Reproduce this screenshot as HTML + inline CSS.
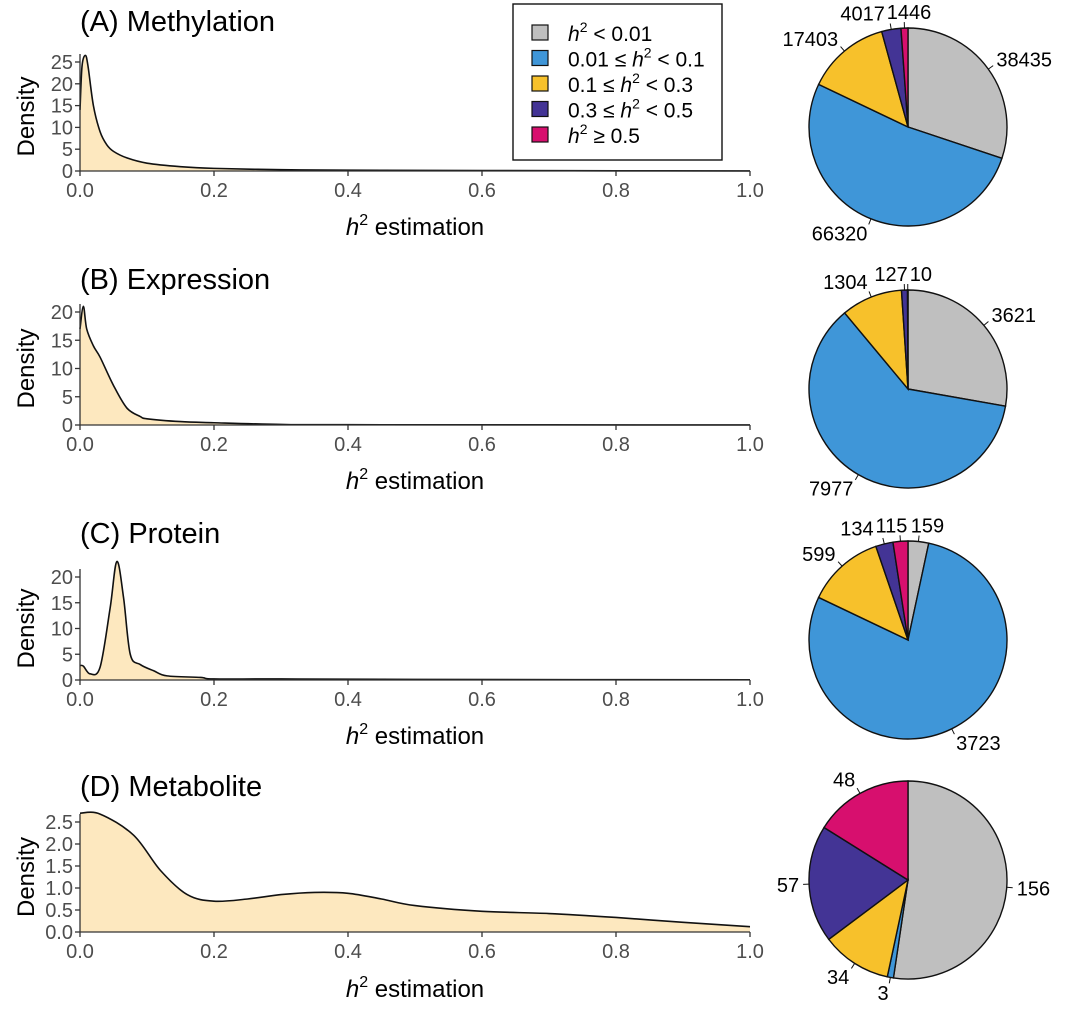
<!DOCTYPE html>
<html><head><meta charset="utf-8">
<style>
body{margin:0;background:#fff;}
svg{display:block;font-family:"Liberation Sans",Arial,sans-serif;}
.tick{fill:#4d4d4d;font-size:20px;}
.ttl{font-size:29px;fill:#000;}
.axt{font-size:24px;fill:#000;}
.pl{font-size:20px;fill:#000;}
</style></head>
<body>
<svg id="fig" width="1080" height="1017" viewBox="0 0 1080 1017"></svg>
<script>
// ---- data ----
const panelTitles = ["(A) Methylation","(B) Expression","(C) Protein","(D) Metabolite"];
const xTicks = [0,0.2,0.4,0.6,0.8,1.0];
const xTickLabels = ["0.0","0.2","0.4","0.6","0.8","1.0"];
const yTicksA = [0,5,10,15,20,25];
const yTicksB = [0,5,10,15,20];
const yTicksC = [0,5,10,15,20];
const yTicksD = [0,0.5,1.0,1.5,2.0,2.5];
const yTickLabelsD = ["0.0","0.5","1.0","1.5","2.0","2.5"];
const densXA = [0,0.003,0.008,0.012,0.02,0.03,0.04,0.05,0.07,0.1,0.15,0.2,0.3,0.4,0.6,0.8,1.0];
const densYA = [14,24,26.5,24,15,9,6,4.5,3,1.8,1,0.6,0.3,0.2,0.1,0.05,0.02];
const densXB = [0,0.005,0.01,0.02,0.03,0.05,0.07,0.09,0.1,0.15,0.2,0.3,0.4,1];
const densYB = [17,21,17,14,12,7,3,1.5,1.1,0.6,0.4,0.1,0.05,0.01];
const densXC = [0,0.005,0.015,0.03,0.045,0.055,0.065,0.075,0.09,0.11,0.13,0.18,0.2,0.3,0.5,1];
const densYC = [2.8,2.7,1.2,2.5,14,23,16,5,3,1.8,0.8,0.5,0.2,0.2,0.1,0.05];
const densXD = [0,0.03,0.08,0.12,0.16,0.2,0.25,0.3,0.35,0.4,0.45,0.5,0.6,0.7,0.8,0.9,1];
const densYD = [2.7,2.68,2.2,1.4,0.85,0.7,0.75,0.85,0.9,0.88,0.75,0.6,0.47,0.42,0.33,0.22,0.12];
const pieA = [38435,66320,17403,4017,1446];
const pieB = [3621,7977,1304,127,10];
const pieC = [159,3723,599,134,115];
const pieD = [156,3,34,57,48];
const pieColors = ["#bfbfbf","#3f96d8","#f7c12b","#433495","#d70f6e"];

// ---- layout ----
const svg = document.getElementById('fig');
const NS = "http://www.w3.org/2000/svg";
function mk(tag, attrs, parent){const e=document.createElementNS(NS,tag);for(const k in attrs)e.setAttribute(k,attrs[k]);(parent||svg).appendChild(e);return e;}
const X0=80, X1=750;
const panels = [
 {title:panelTitles[0],titleY:31,base:171,top:62,ymaxT:25,ticks:yTicksA,labels:yTicksA.map(String),dx:densXA,dy:densYA,pie:pieA,pc:[908,127],xt:190,xtitle:235},
 {title:panelTitles[1],titleY:289,base:425,top:312,ymaxT:20,ticks:yTicksB,labels:yTicksB.map(String),dx:densXB,dy:densYB,pie:pieB,pc:[908,389],xt:444,xtitle:489},
 {title:panelTitles[2],titleY:543,base:680,top:577,ymaxT:20,ticks:yTicksC,labels:yTicksC.map(String),dx:densXC,dy:densYC,pie:pieC,pc:[908,640],xt:699,xtitle:744},
 {title:panelTitles[3],titleY:796,base:932,top:822,ymaxT:2.5,ticks:yTicksD,labels:yTickLabelsD,dx:densXD,dy:densYD,pie:pieD,pc:[908,880],xt:951,xtitle:997}
];
function spline(pts){
  let d="M"+pts[0][0]+","+pts[0][1];
  for(let i=0;i<pts.length-1;i++){
    const p0=pts[Math.max(i-1,0)],p1=pts[i],p2=pts[i+1],p3=pts[Math.min(i+2,pts.length-1)];
    const t=1/6;
    const c1=[p1[0]+(p2[0]-p0[0])*t,p1[1]+(p2[1]-p0[1])*t];
    const c2=[p2[0]-(p3[0]-p1[0])*t,p2[1]-(p3[1]-p1[1])*t];
    d+=" C"+c1[0]+","+c1[1]+" "+c2[0]+","+c2[1]+" "+p2[0]+","+p2[1];
  }
  return d;
}
panels.forEach((p,idx)=>{
  const g=mk('g',{});
  
  
  const sx=v=>X0+(X1-X0)*v;
  const sy=v=>p.base-(p.base-p.top)*v/p.ymaxT;
  const t=mk('text',{x:80,y:p.titleY,class:'ttl'},g);t.textContent=p.title;
  
  
  const pts=p.dx.map((x,i)=>[sx(x),sy(p.dy[i])]);
  const line=spline(pts);
  const area=mk('path',{d:line+" L"+sx(p.dx[p.dx.length-1])+","+p.base+" L"+sx(p.dx[0])+","+p.base+" Z",fill:"#fde8bf",stroke:"none"},g);
  
  
  const ln=mk('path',{d:line,fill:"none",stroke:"#111","stroke-width":1.6},g);
  
  
  const ya=mk('line',{x1:X0,x2:X0,y1:p.top-8,y2:p.base,stroke:"#333","stroke-width":1.3},g);
  
  
  const xa=mk('line',{x1:X0,x2:X1,y1:p.base,y2:p.base,stroke:"#333","stroke-width":1.3},g);
  
  
  p.ticks.forEach((v,i)=>{
    mk('line',{x1:X0-5,x2:X0,y1:sy(v),y2:sy(v),stroke:"#333","stroke-width":1.3},g);
    const tl=mk('text',{x:X0-7,y:sy(v)+7,class:'tick','text-anchor':'end'},g);tl.textContent=p.labels[i];
    
    
  });
  xTicks.forEach((v,i)=>{
    mk('line',{x1:sx(v),x2:sx(v),y1:p.base,y2:p.base+5,stroke:"#333","stroke-width":1.3},g);
    const tl=mk('text',{x:sx(v),y:p.xt+7,class:'tick','text-anchor':'middle'},g);tl.textContent=xTickLabels[i];
    
    
  });
  const yt=mk('text',{x:0,y:0,class:'axt','text-anchor':'middle',transform:`translate(34,${(p.top+p.base)/2}) rotate(-90)`},g);yt.textContent="Density";
  
  
  const xt=mk('text',{x:415,y:p.xtitle,class:'axt','text-anchor':'middle'},g);
  xt.innerHTML='<tspan font-style="italic">h</tspan><tspan dy="-10" font-size="16">2</tspan><tspan dy="10"> estimation</tspan>';
  
  
  // pie
  const tot=p.pie.reduce((a,b)=>a+b,0);
  const [cx,cy]=p.pc, r=99;
  let a0=0;
  const labs=[];
  p.pie.forEach((v,i)=>{
    const a1=a0+v/tot*2*Math.PI;
    const P=a=>[cx+r*Math.sin(a),cy-r*Math.cos(a)];
    const s=P(a0),e=P(a1);
    const large=(a1-a0)>Math.PI?1:0;
    const sl=mk('path',{d:`M${cx},${cy} L${s[0]},${s[1]} A${r},${r} 0 ${large} 1 ${e[0]},${e[1]} Z`,fill:pieColors[i],stroke:"#111","stroke-width":1.4},g);
    
    
    const am=(a0+a1)/2;
    const q1=[cx+r*Math.sin(am),cy-r*Math.cos(am)],q2=[cx+(r+6)*Math.sin(am),cy-(r+6)*Math.cos(am)];
    mk('line',{x1:q1[0],y1:q1[1],x2:q2[0],y2:q2[1],stroke:"#111","stroke-width":1},g);
    const sn=Math.sin(am);
    const w=String(v).length*11.1;
    let lx=cx+(r+10)*sn, ly=cy-(r+16)*Math.cos(am)+7;
    let left = sn>0.15 ? lx : (sn<-0.15 ? lx-w : lx-w/2);
    labs.push({v,left,ly,w,top:Math.abs(sn)<=0.15&&Math.cos(am)>0});
    a0=a1;
  });
  // resolve overlaps among top labels
  const tops=labs.filter(l=>l.top||l.ly<cy-r+15).sort((a,b)=>a.left-b.left);
  for(let k=1;k<tops.length;k++){
    const prev=tops[k-1],cur=tops[k];
    if(Math.abs(prev.ly-cur.ly)<20 && prev.left+prev.w+2>cur.left){
      const ov=prev.left+prev.w+2-cur.left;
      prev.left-=ov/2; cur.left+=ov/2;
      for(let j=k-1;j>0;j--){const a=tops[j-1],b=tops[j];if(Math.abs(a.ly-b.ly)<20&&a.left+a.w+2>b.left)a.left=b.left-a.w-2;}
    }
  }
  labs.forEach(l=>{
    const lb=mk('text',{x:l.left,y:l.ly,class:'pl','text-anchor':'start'},g);lb.textContent=String(l.v);
    
    
  });
});
// legend
const lg=mk('g',{});


mk('rect',{x:513,y:4,width:209,height:156,fill:"#fff",stroke:"#111","stroke-width":1.4},lg);
const legHtml=[
 '<tspan font-style="italic">h</tspan><tspan dy="-9" font-size="14">2</tspan><tspan dy="9"> &lt; 0.01</tspan>',
 '0.01 ≤ <tspan font-style="italic">h</tspan><tspan dy="-9" font-size="14">2</tspan><tspan dy="9"> &lt; 0.1</tspan>',
 '0.1 ≤ <tspan font-style="italic">h</tspan><tspan dy="-9" font-size="14">2</tspan><tspan dy="9"> &lt; 0.3</tspan>',
 '0.3 ≤ <tspan font-style="italic">h</tspan><tspan dy="-9" font-size="14">2</tspan><tspan dy="9"> &lt; 0.5</tspan>',
 '<tspan font-style="italic">h</tspan><tspan dy="-9" font-size="14">2</tspan><tspan dy="9"> ≥ 0.5</tspan>'];
legHtml.forEach((h,i)=>{
  const y=33+i*25.5;
  const k=mk('rect',{x:532,y:y-8,width:16,height:15,fill:pieColors[i],stroke:"#111","stroke-width":1.2},lg);
  
  
  const t=mk('text',{x:568,y:y+8,'font-size':21,fill:'#000'},lg);t.innerHTML=h;
  
  
});
</script>
</body></html>
